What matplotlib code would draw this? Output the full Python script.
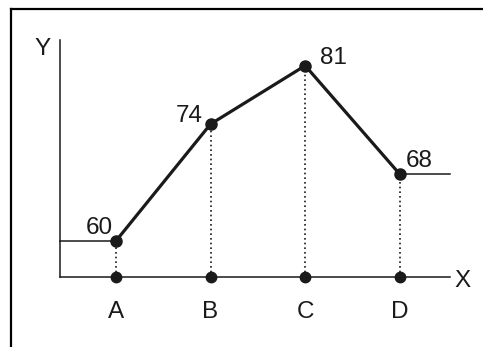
import matplotlib
matplotlib.use("Agg")
import matplotlib.pyplot as plt
from matplotlib.lines import Line2D

plt.rcParams['font.family'] = ['Liberation Sans', 'DejaVu Sans']

categories = ["A", "B", "C", "D"]
values = [60, 74, 81, 68]

W, H, DPI = 483, 347, 100
fig = plt.figure(figsize=(W / DPI, H / DPI), dpi=DPI)
fig.patch.set_facecolor("white")

# axes placed in pixel terms
L, R, T, B = 60, 450, 40, 277
ax = fig.add_axes([L / W, (H - B) / H, (R - L) / W, (B - T) / H])
ax.set_facecolor("none")

xmin, xmax = -0.59, 3.53
ymin, ymax = 55.7, 84.07
ax.set_xlim(xmin, xmax)
ax.set_ylim(ymin, ymax)

ink = "#1a1a1a"
PT = 72 / DPI  # points per pixel

for s in ["top", "right"]:
    ax.spines[s].set_visible(False)
for s in ["left", "bottom"]:
    ax.spines[s].set_color(ink)
    ax.spines[s].set_linewidth(1.1)
ax.set_xticks([])
ax.set_yticks([])

xs = list(range(len(categories)))

# dotted drop lines
for x, v in zip(xs, values):
    ax.plot([x, x], [ymin, v], color=ink, lw=1.2, linestyle=(0, (1, 1.8)),
            solid_capstyle="butt", zorder=2, clip_on=False)

# reference horizontal lines
ax.plot([xmin, xs[0]], [values[0], values[0]], color=ink, lw=1.1, zorder=2, clip_on=False)
ax.plot([xs[-1], xmax], [values[-1], values[-1]], color=ink, lw=1.1, zorder=2, clip_on=False)

# main line
ax.plot(xs, values, color=ink, lw=2.3, marker="o", markersize=8, zorder=4,
        clip_on=False)
# dots on x axis
ax.plot(xs, [ymin] * len(xs), linestyle="none", color=ink, marker="o",
        markersize=7.5, zorder=4, clip_on=False)

fs = 17.5
label_offsets = [(-17, 7), (-21, 2), (28, 2), (19, 7)]
for x, v, (dx, dy) in zip(xs, values, label_offsets):
    ax.annotate(str(v), xy=(x, v), xytext=(dx * PT, dy * PT), textcoords="offset points",
                ha="center", va="baseline", fontsize=fs, color=ink)

for x, c in zip(xs, categories):
    ax.annotate(c, xy=(x, ymin), xytext=(0, -41 * PT), textcoords="offset points",
                ha="center", va="baseline", fontsize=fs, color=ink, annotation_clip=False)

ax.annotate("Y", xy=(0, 1), xycoords="axes fraction", xytext=(-17 * PT, -15 * PT),
            textcoords="offset points", ha="center", va="baseline", fontsize=fs, color=ink)
ax.annotate("X", xy=(1, 0), xycoords="axes fraction", xytext=(13 * PT, -10 * PT),
            textcoords="offset points", ha="center", va="baseline", fontsize=fs, color=ink)

# frame border: top and left edges only
bx, by = 11 / W, 1 - 8.5 / H
fig.add_artist(Line2D([bx, 1], [by, by], transform=fig.transFigure, color="black", lw=1.6))
fig.add_artist(Line2D([bx, bx], [0, by], transform=fig.transFigure, color="black", lw=1.6))

fig.savefig("out.png", dpi=DPI, facecolor="white")
